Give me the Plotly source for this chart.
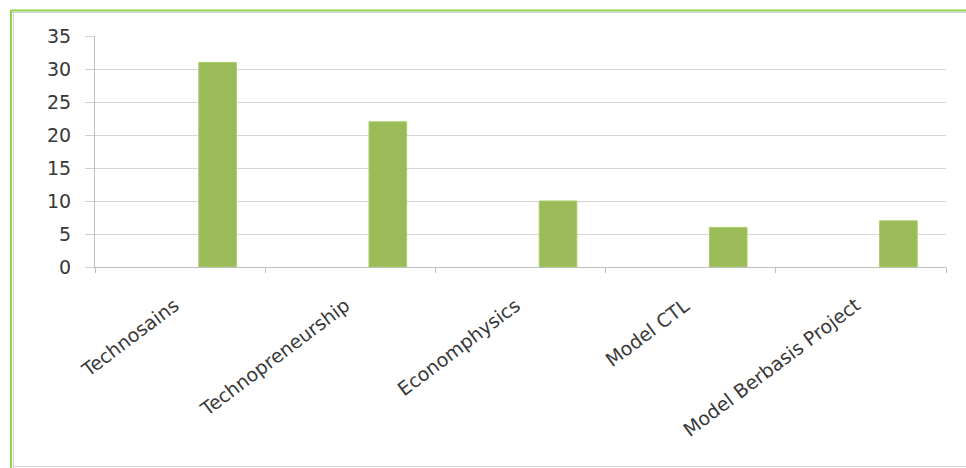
import plotly.graph_objects as go

categories = ["Technosains", "Technopreneurship", "Economphysics", "Model CTL", "Model Berbasis Project"]
values = [31, 22, 10, 6, 7]
y_ticks = [0, 5, 10, 15, 20, 25, 30, 35]

W, H = 966, 468
L, R, T, B = 95, 20, 36, 201
pw, ph = W - L - R, H - T - B

def px_x(p):
    return (p - L) / pw

def px_y(p):
    return (H - B - p) / ph

fig = go.Figure()
fig.add_trace(go.Bar(
    x=categories, y=values,
    width=0.221, offset=0.11,
    marker=dict(color="#9BBB59", line=dict(color="#A9CC68", width=1)),
    showlegend=False,
))

font = dict(family="'DejaVu Sans', sans-serif", size=19, color="#383838")

annotations = [
    dict(x=c, y=0, xref="x", yref="y", text=c, showarrow=False,
         textangle=-37, xanchor="right", yanchor="top",
         xshift=6, yshift=-24, font=font)
    for c in categories
]

fig.update_layout(
    width=W, height=H,
    margin=dict(l=L, r=R, t=T, b=B),
    paper_bgcolor="white", plot_bgcolor="white",
    font=font,
    xaxis=dict(
        type="category", range=[-0.5, 4.5],
        tickson="boundaries", ticks="outside", ticklen=5, tickcolor="#BFBFBF",
        showline=True, linecolor="#BFBFBF", linewidth=1,
        showticklabels=False, showgrid=False,
    ),
    yaxis=dict(
        range=[0, 35], tickvals=y_ticks,
        ticks="outside", ticklen=9, tickcolor="#D0D0D0",
        showline=True, linecolor="#BFBFBF", linewidth=1,
        showgrid=True, gridcolor="#D6D6D6", gridwidth=1,
        zeroline=False, tickfont=font, ticklabelstandoff=10,
    ),
    annotations=annotations,
    shapes=[
        dict(type="line", xref="paper", yref="paper",
             x0=px_x(11), x1=px_x(970), y0=px_y(10.5), y1=px_y(10.5),
             line=dict(color="#8FD14F", width=2)),
        dict(type="line", xref="paper", yref="paper",
             x0=px_x(11), x1=px_x(970), y0=px_y(12.5), y1=px_y(12.5),
             line=dict(color="#D0D0D0", width=1)),
        dict(type="line", xref="paper", yref="paper",
             x0=px_x(11), x1=px_x(11), y0=px_y(10), y1=px_y(470),
             line=dict(color="#8FD14F", width=2)),
        dict(type="line", xref="paper", yref="paper",
             x0=px_x(13.5), x1=px_x(13.5), y0=px_y(12), y1=px_y(470),
             line=dict(color="#D0D0D0", width=1)),
        dict(type="line", xref="paper", yref="paper",
             x0=px_x(11), x1=px_x(970), y0=px_y(466.5), y1=px_y(466.5),
             line=dict(color="#D8D8D8", width=1)),
    ],
)

fig.write_html("out.html")
